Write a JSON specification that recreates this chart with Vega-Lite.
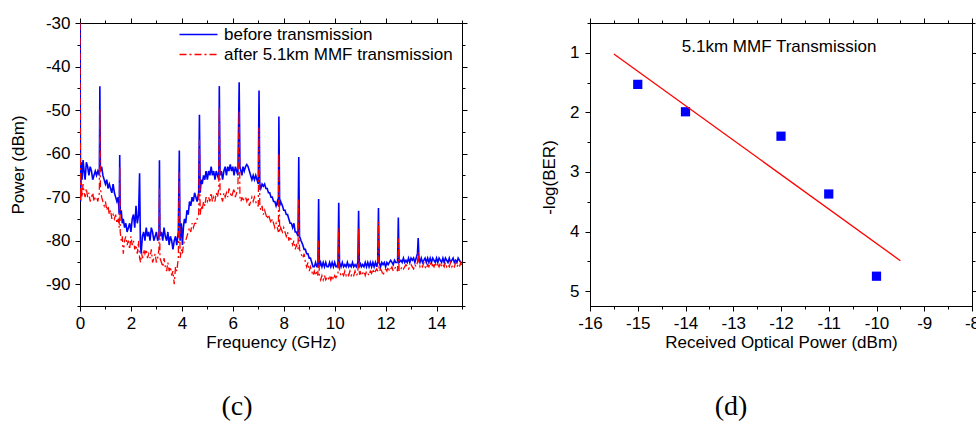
{
"$schema": "https://vega.github.io/schema/vega-lite/v6.json",
"background": "white",
"padding": {"left": 8, "top": 13, "right": 0, "bottom": 0},
"spacing": 128,
"bounds": "flush",
"config": {
  "font": "Liberation Sans",
  "view": {"stroke": "black", "strokeWidth": 1},
  "axis": {"grid": false, "zindex": 0, "domainColor": "black", "tickColor": "black", "labelColor": "black", "titleColor": "black", "labelFont": "Liberation Sans", "titleFont": "Liberation Sans", "labelFontSize": 17, "titleFontSize": 17, "titleFontWeight": "normal", "labelPadding": 4, "labelFlush": false, "labelOverlap": false}
},
"datasets": {
"before": [
{"f":0,"p":-30},{"f":0.02,"p":-71},{"f":0.05,"p":-62},{"f":0.08,"p":-66},{"f":0.12,"p":-61.5},{"f":0.16,"p":-64},{"f":0.2,"p":-66},{"f":0.25,"p":-62},{"f":0.3,"p":-63},{"f":0.35,"p":-65},{"f":0.4,"p":-63},{"f":0.45,"p":-64},{"f":0.5,"p":-66},{"f":0.55,"p":-65},{"f":0.6,"p":-64},{"f":0.65,"p":-65},{"f":0.7,"p":-64},{"f":0.76,"p":-65},{"f":0.78,"p":-44.5},{"f":0.8,"p":-64},{"f":0.85,"p":-63},{"f":0.9,"p":-65},{"f":0.95,"p":-66},{"f":1,"p":-67},{"f":1.05,"p":-66},{"f":1.1,"p":-68},{"f":1.15,"p":-67},{"f":1.2,"p":-68},{"f":1.25,"p":-69},{"f":1.3,"p":-67},{"f":1.35,"p":-69},{"f":1.4,"p":-70},{"f":1.45,"p":-71},{"f":1.5,"p":-70},{"f":1.54,"p":-74},{"f":1.56,"p":-60.3},{"f":1.58,"p":-74},{"f":1.62,"p":-73},{"f":1.66,"p":-76},{"f":1.7,"p":-75},{"f":1.75,"p":-77},{"f":1.8,"p":-76},{"f":1.85,"p":-78},{"f":1.9,"p":-77},{"f":1.95,"p":-76},{"f":2,"p":-78},{"f":2.05,"p":-75},{"f":2.1,"p":-74},{"f":2.15,"p":-77},{"f":2.2,"p":-72},{"f":2.25,"p":-76},{"f":2.3,"p":-74},{"f":2.34,"p":-64.5},{"f":2.37,"p":-80},{"f":2.4,"p":-83},{"f":2.45,"p":-79},{"f":2.5,"p":-78},{"f":2.55,"p":-80},{"f":2.6,"p":-77},{"f":2.65,"p":-79},{"f":2.7,"p":-78},{"f":2.75,"p":-80},{"f":2.8,"p":-77},{"f":2.85,"p":-78},{"f":2.9,"p":-80},{"f":2.95,"p":-79},{"f":3,"p":-78},{"f":3.05,"p":-80},{"f":3.1,"p":-79},{"f":3.12,"p":-61.5},{"f":3.14,"p":-79},{"f":3.2,"p":-78},{"f":3.25,"p":-80},{"f":3.3,"p":-77},{"f":3.35,"p":-79},{"f":3.4,"p":-80},{"f":3.45,"p":-78},{"f":3.5,"p":-81},{"f":3.55,"p":-79},{"f":3.6,"p":-80},{"f":3.65,"p":-82},{"f":3.7,"p":-80},{"f":3.75,"p":-79},{"f":3.8,"p":-81},{"f":3.86,"p":-78},{"f":3.9,"p":-59.3},{"f":3.93,"p":-80},{"f":3.98,"p":-76},{"f":4.02,"p":-81},{"f":4.06,"p":-77},{"f":4.1,"p":-75},{"f":4.15,"p":-76},{"f":4.2,"p":-73},{"f":4.25,"p":-74},{"f":4.3,"p":-71},{"f":4.35,"p":-72},{"f":4.4,"p":-70},{"f":4.45,"p":-71},{"f":4.5,"p":-69},{"f":4.55,"p":-70},{"f":4.6,"p":-71},{"f":4.66,"p":-69},{"f":4.69,"p":-51.1},{"f":4.72,"p":-69},{"f":4.76,"p":-66},{"f":4.8,"p":-67},{"f":4.85,"p":-65},{"f":4.9,"p":-66},{"f":4.95,"p":-64},{"f":5,"p":-66},{"f":5.05,"p":-64},{"f":5.1,"p":-65},{"f":5.15,"p":-63},{"f":5.2,"p":-65},{"f":5.25,"p":-64},{"f":5.3,"p":-66},{"f":5.35,"p":-64},{"f":5.4,"p":-65},{"f":5.45,"p":-66},{"f":5.47,"p":-44.5},{"f":5.5,"p":-65},{"f":5.55,"p":-64},{"f":5.6,"p":-66},{"f":5.65,"p":-64},{"f":5.7,"p":-63},{"f":5.75,"p":-65},{"f":5.8,"p":-63},{"f":5.85,"p":-64},{"f":5.9,"p":-62.5},{"f":5.95,"p":-64},{"f":6,"p":-63},{"f":6.05,"p":-65},{"f":6.1,"p":-63},{"f":6.15,"p":-64},{"f":6.2,"p":-65},{"f":6.25,"p":-43.6},{"f":6.28,"p":-63},{"f":6.32,"p":-64},{"f":6.36,"p":-65},{"f":6.4,"p":-63},{"f":6.45,"p":-64},{"f":6.5,"p":-63},{"f":6.55,"p":-62.5},{"f":6.6,"p":-63},{"f":6.65,"p":-64},{"f":6.7,"p":-65},{"f":6.75,"p":-66},{"f":6.8,"p":-65},{"f":6.85,"p":-66},{"f":6.9,"p":-65},{"f":6.95,"p":-66},{"f":7,"p":-67},{"f":7.03,"p":-45.5},{"f":7.06,"p":-67},{"f":7.1,"p":-68},{"f":7.15,"p":-67},{"f":7.2,"p":-67.5},{"f":7.25,"p":-67},{"f":7.3,"p":-68},{"f":7.35,"p":-68},{"f":7.4,"p":-69},{"f":7.45,"p":-69},{"f":7.5,"p":-70},{"f":7.55,"p":-70},{"f":7.6,"p":-71},{"f":7.65,"p":-71},{"f":7.7,"p":-72},{"f":7.75,"p":-71},{"f":7.79,"p":-72},{"f":7.81,"p":-51.5},{"f":7.84,"p":-72},{"f":7.88,"p":-71},{"f":7.95,"p":-72},{"f":8,"p":-73},{"f":8.05,"p":-73},{"f":8.1,"p":-74},{"f":8.15,"p":-74},{"f":8.2,"p":-75},{"f":8.25,"p":-76},{"f":8.3,"p":-76},{"f":8.35,"p":-77},{"f":8.4,"p":-76},{"f":8.45,"p":-78},{"f":8.5,"p":-78},{"f":8.56,"p":-79},{"f":8.59,"p":-60.8},{"f":8.62,"p":-79},{"f":8.68,"p":-80},{"f":8.75,"p":-81},{"f":8.8,"p":-82},{"f":8.85,"p":-82},{"f":8.9,"p":-83},{"f":8.95,"p":-83},{"f":9,"p":-84},{"f":9.05,"p":-84},{"f":9.1,"p":-85},{"f":9.15,"p":-86},{"f":9.2,"p":-86},{"f":9.25,"p":-85},{"f":9.3,"p":-86},{"f":9.34,"p":-86},{"f":9.37,"p":-70.4},{"f":9.4,"p":-86},{"f":9.45,"p":-85},{"f":9.5,"p":-86},{"f":9.55,"p":-85},{"f":9.6,"p":-86},{"f":9.65,"p":-85},{"f":9.7,"p":-86},{"f":9.75,"p":-86},{"f":9.8,"p":-85},{"f":9.85,"p":-86},{"f":9.9,"p":-85},{"f":9.95,"p":-86},{"f":10,"p":-85},{"f":10.05,"p":-86},{"f":10.1,"p":-86},{"f":10.13,"p":-85},{"f":10.16,"p":-71.3},{"f":10.19,"p":-85},{"f":10.25,"p":-86},{"f":10.3,"p":-85},{"f":10.35,"p":-86},{"f":10.4,"p":-85.5},{"f":10.45,"p":-86},{"f":10.5,"p":-85},{"f":10.55,"p":-86},{"f":10.6,"p":-85.5},{"f":10.65,"p":-86},{"f":10.7,"p":-85},{"f":10.75,"p":-86},{"f":10.8,"p":-85.5},{"f":10.85,"p":-86},{"f":10.91,"p":-85},{"f":10.94,"p":-73.1},{"f":10.97,"p":-86},{"f":11,"p":-85},{"f":11.05,"p":-86},{"f":11.1,"p":-85.5},{"f":11.15,"p":-86},{"f":11.2,"p":-85},{"f":11.25,"p":-86},{"f":11.3,"p":-85},{"f":11.35,"p":-86},{"f":11.4,"p":-85},{"f":11.45,"p":-86},{"f":11.5,"p":-85},{"f":11.55,"p":-86},{"f":11.6,"p":-85},{"f":11.65,"p":-86},{"f":11.69,"p":-85},{"f":11.72,"p":-72.5},{"f":11.75,"p":-85},{"f":11.8,"p":-86},{"f":11.85,"p":-85},{"f":11.9,"p":-85.5},{"f":11.95,"p":-85},{"f":12,"p":-86},{"f":12.05,"p":-85},{"f":12.1,"p":-85.5},{"f":12.15,"p":-85},{"f":12.2,"p":-84.5},{"f":12.25,"p":-85},{"f":12.3,"p":-85.5},{"f":12.35,"p":-84.5},{"f":12.4,"p":-85},{"f":12.47,"p":-85},{"f":12.5,"p":-74.7},{"f":12.53,"p":-85},{"f":12.6,"p":-84.5},{"f":12.65,"p":-85},{"f":12.7,"p":-84},{"f":12.75,"p":-85},{"f":12.8,"p":-84.5},{"f":12.85,"p":-85},{"f":12.9,"p":-84},{"f":12.95,"p":-85},{"f":13,"p":-84},{"f":13.05,"p":-84.5},{"f":13.1,"p":-84},{"f":13.15,"p":-85},{"f":13.2,"p":-84},{"f":13.25,"p":-83},{"f":13.28,"p":-79.4},{"f":13.31,"p":-84},{"f":13.35,"p":-85},{"f":13.4,"p":-84},{"f":13.45,"p":-85},{"f":13.5,"p":-84.5},{"f":13.55,"p":-84},{"f":13.6,"p":-85},{"f":13.65,"p":-84},{"f":13.7,"p":-85},{"f":13.75,"p":-84},{"f":13.8,"p":-85},{"f":13.85,"p":-84},{"f":13.9,"p":-84.5},{"f":13.95,"p":-85},{"f":14,"p":-84},{"f":14.05,"p":-85},{"f":14.1,"p":-84},{"f":14.15,"p":-84.5},{"f":14.2,"p":-85},{"f":14.25,"p":-84},{"f":14.3,"p":-85},{"f":14.35,"p":-84},{"f":14.4,"p":-84.5},{"f":14.45,"p":-85},{"f":14.5,"p":-84},{"f":14.55,"p":-85},{"f":14.6,"p":-84.5},{"f":14.65,"p":-84},{"f":14.7,"p":-85},{"f":14.75,"p":-84.5},{"f":14.8,"p":-85},{"f":14.85,"p":-84},{"f":14.9,"p":-84.5},{"f":14.95,"p":-85},{"f":15,"p":-85}
],
"after": [
{"f":0,"p":-30},{"f":0.02,"p":-71},{"f":0.05,"p":-66},{"f":0.08,"p":-70},{"f":0.12,"p":-67},{"f":0.16,"p":-69},{"f":0.2,"p":-70},{"f":0.25,"p":-68},{"f":0.3,"p":-70},{"f":0.35,"p":-69},{"f":0.4,"p":-71},{"f":0.45,"p":-70},{"f":0.5,"p":-69},{"f":0.55,"p":-71},{"f":0.6,"p":-70},{"f":0.65,"p":-70},{"f":0.7,"p":-71},{"f":0.76,"p":-69},{"f":0.78,"p":-50},{"f":0.8,"p":-68},{"f":0.85,"p":-70},{"f":0.9,"p":-71},{"f":0.95,"p":-72},{"f":1,"p":-71},{"f":1.05,"p":-73},{"f":1.1,"p":-72},{"f":1.15,"p":-74},{"f":1.2,"p":-73},{"f":1.25,"p":-75},{"f":1.3,"p":-74},{"f":1.35,"p":-75},{"f":1.4,"p":-74},{"f":1.45,"p":-76},{"f":1.5,"p":-75},{"f":1.54,"p":-77},{"f":1.56,"p":-63},{"f":1.58,"p":-78},{"f":1.62,"p":-80},{"f":1.66,"p":-79},{"f":1.7,"p":-83},{"f":1.75,"p":-80},{"f":1.8,"p":-79},{"f":1.85,"p":-81},{"f":1.9,"p":-80},{"f":1.95,"p":-82},{"f":2,"p":-79},{"f":2.05,"p":-81},{"f":2.1,"p":-80},{"f":2.15,"p":-82},{"f":2.2,"p":-81},{"f":2.25,"p":-83},{"f":2.3,"p":-80},{"f":2.34,"p":-84},{"f":2.38,"p":-85},{"f":2.42,"p":-83},{"f":2.46,"p":-84},{"f":2.5,"p":-82},{"f":2.55,"p":-83},{"f":2.6,"p":-82},{"f":2.65,"p":-84},{"f":2.7,"p":-83},{"f":2.75,"p":-84},{"f":2.8,"p":-82},{"f":2.85,"p":-85},{"f":2.9,"p":-84},{"f":2.95,"p":-83},{"f":3,"p":-85},{"f":3.05,"p":-84},{"f":3.1,"p":-82},{"f":3.12,"p":-68},{"f":3.14,"p":-84},{"f":3.2,"p":-85},{"f":3.25,"p":-86},{"f":3.3,"p":-84},{"f":3.35,"p":-86},{"f":3.4,"p":-87},{"f":3.45,"p":-85},{"f":3.5,"p":-87},{"f":3.55,"p":-86},{"f":3.6,"p":-88},{"f":3.65,"p":-87},{"f":3.7,"p":-90},{"f":3.75,"p":-86},{"f":3.8,"p":-87},{"f":3.86,"p":-84},{"f":3.9,"p":-64.3},{"f":3.93,"p":-84},{"f":3.98,"p":-82},{"f":4.02,"p":-83},{"f":4.06,"p":-81},{"f":4.1,"p":-80},{"f":4.15,"p":-80},{"f":4.2,"p":-79},{"f":4.25,"p":-78},{"f":4.3,"p":-77},{"f":4.35,"p":-78},{"f":4.4,"p":-76},{"f":4.45,"p":-77},{"f":4.5,"p":-76},{"f":4.55,"p":-76},{"f":4.6,"p":-75},{"f":4.66,"p":-74},{"f":4.69,"p":-56.8},{"f":4.72,"p":-74},{"f":4.76,"p":-72},{"f":4.8,"p":-73},{"f":4.85,"p":-71},{"f":4.9,"p":-72},{"f":4.95,"p":-70},{"f":5,"p":-71},{"f":5.05,"p":-70},{"f":5.1,"p":-71},{"f":5.15,"p":-69},{"f":5.2,"p":-71},{"f":5.25,"p":-70},{"f":5.3,"p":-71},{"f":5.35,"p":-69},{"f":5.4,"p":-70},{"f":5.45,"p":-68},{"f":5.47,"p":-49.4},{"f":5.5,"p":-69},{"f":5.55,"p":-70},{"f":5.6,"p":-71},{"f":5.65,"p":-69},{"f":5.7,"p":-70},{"f":5.75,"p":-69},{"f":5.8,"p":-70},{"f":5.85,"p":-68},{"f":5.9,"p":-69},{"f":5.95,"p":-70},{"f":6,"p":-69},{"f":6.05,"p":-68},{"f":6.1,"p":-70},{"f":6.15,"p":-69},{"f":6.2,"p":-68},{"f":6.25,"p":-50.1},{"f":6.28,"p":-70},{"f":6.32,"p":-71},{"f":6.36,"p":-70},{"f":6.4,"p":-71},{"f":6.45,"p":-70},{"f":6.5,"p":-70},{"f":6.55,"p":-71},{"f":6.6,"p":-70},{"f":6.65,"p":-72},{"f":6.7,"p":-71},{"f":6.75,"p":-70},{"f":6.8,"p":-71},{"f":6.85,"p":-70},{"f":6.9,"p":-71},{"f":6.95,"p":-72},{"f":7,"p":-72},{"f":7.03,"p":-54},{"f":7.06,"p":-72},{"f":7.1,"p":-73},{"f":7.15,"p":-72},{"f":7.2,"p":-74},{"f":7.25,"p":-73},{"f":7.3,"p":-74},{"f":7.35,"p":-75},{"f":7.4,"p":-74},{"f":7.45,"p":-75},{"f":7.5,"p":-76},{"f":7.55,"p":-75},{"f":7.6,"p":-76},{"f":7.65,"p":-77},{"f":7.7,"p":-76},{"f":7.75,"p":-77},{"f":7.79,"p":-78},{"f":7.81,"p":-59.9},{"f":7.84,"p":-78},{"f":7.88,"p":-77},{"f":7.95,"p":-78},{"f":8,"p":-77},{"f":8.05,"p":-78},{"f":8.1,"p":-79},{"f":8.15,"p":-78},{"f":8.2,"p":-80},{"f":8.25,"p":-79},{"f":8.3,"p":-80},{"f":8.35,"p":-81},{"f":8.4,"p":-80},{"f":8.45,"p":-82},{"f":8.5,"p":-81},{"f":8.56,"p":-82},{"f":8.59,"p":-70.5},{"f":8.62,"p":-82},{"f":8.68,"p":-83},{"f":8.75,"p":-84},{"f":8.8,"p":-83},{"f":8.85,"p":-85},{"f":8.9,"p":-86},{"f":8.95,"p":-85},{"f":9,"p":-87},{"f":9.05,"p":-86},{"f":9.1,"p":-87},{"f":9.15,"p":-88},{"f":9.2,"p":-87},{"f":9.25,"p":-88},{"f":9.3,"p":-87},{"f":9.34,"p":-88},{"f":9.37,"p":-80},{"f":9.4,"p":-88},{"f":9.45,"p":-89},{"f":9.5,"p":-88},{"f":9.55,"p":-89},{"f":9.6,"p":-88},{"f":9.65,"p":-89},{"f":9.7,"p":-88.5},{"f":9.75,"p":-89},{"f":9.8,"p":-88},{"f":9.85,"p":-89},{"f":9.9,"p":-88},{"f":9.95,"p":-89},{"f":10,"p":-88},{"f":10.05,"p":-88.5},{"f":10.1,"p":-88},{"f":10.13,"p":-88},{"f":10.16,"p":-77.2},{"f":10.19,"p":-87},{"f":10.25,"p":-88},{"f":10.3,"p":-87.5},{"f":10.35,"p":-88},{"f":10.4,"p":-87},{"f":10.45,"p":-88},{"f":10.5,"p":-87.5},{"f":10.55,"p":-88},{"f":10.6,"p":-87},{"f":10.65,"p":-88},{"f":10.7,"p":-87.5},{"f":10.75,"p":-88},{"f":10.8,"p":-87},{"f":10.85,"p":-88},{"f":10.91,"p":-87.5},{"f":10.94,"p":-77.2},{"f":10.97,"p":-88},{"f":11,"p":-87},{"f":11.05,"p":-88},{"f":11.1,"p":-87.5},{"f":11.15,"p":-87},{"f":11.2,"p":-88},{"f":11.25,"p":-87},{"f":11.3,"p":-87.5},{"f":11.35,"p":-88},{"f":11.4,"p":-87},{"f":11.45,"p":-87.5},{"f":11.5,"p":-86.5},{"f":11.55,"p":-87.5},{"f":11.6,"p":-87},{"f":11.65,"p":-86.5},{"f":11.69,"p":-87},{"f":11.72,"p":-75.7},{"f":11.75,"p":-87},{"f":11.8,"p":-86.5},{"f":11.85,"p":-87},{"f":11.9,"p":-88},{"f":11.95,"p":-87},{"f":12,"p":-86.5},{"f":12.05,"p":-87},{"f":12.1,"p":-86},{"f":12.15,"p":-87},{"f":12.2,"p":-86.5},{"f":12.25,"p":-86},{"f":12.3,"p":-87},{"f":12.35,"p":-86.5},{"f":12.4,"p":-86},{"f":12.47,"p":-87},{"f":12.5,"p":-79.5},{"f":12.53,"p":-87},{"f":12.6,"p":-86.5},{"f":12.65,"p":-86},{"f":12.7,"p":-86.5},{"f":12.75,"p":-86},{"f":12.8,"p":-85.5},{"f":12.85,"p":-86},{"f":12.9,"p":-86.5},{"f":12.95,"p":-86},{"f":13,"p":-85.5},{"f":13.05,"p":-86},{"f":13.1,"p":-86.5},{"f":13.15,"p":-85.5},{"f":13.2,"p":-86},{"f":13.25,"p":-85},{"f":13.28,"p":-82.7},{"f":13.31,"p":-85},{"f":13.35,"p":-86},{"f":13.4,"p":-85.5},{"f":13.45,"p":-86},{"f":13.5,"p":-85},{"f":13.55,"p":-86},{"f":13.6,"p":-86.5},{"f":13.65,"p":-85.5},{"f":13.7,"p":-86},{"f":13.75,"p":-85},{"f":13.8,"p":-86},{"f":13.85,"p":-85.5},{"f":13.9,"p":-86},{"f":13.95,"p":-85},{"f":14,"p":-86},{"f":14.05,"p":-85.5},{"f":14.1,"p":-86},{"f":14.15,"p":-85},{"f":14.2,"p":-86},{"f":14.25,"p":-85.5},{"f":14.3,"p":-86},{"f":14.35,"p":-85},{"f":14.4,"p":-86},{"f":14.45,"p":-85.5},{"f":14.5,"p":-86},{"f":14.55,"p":-85},{"f":14.6,"p":-86},{"f":14.65,"p":-85.5},{"f":14.7,"p":-86},{"f":14.75,"p":-85},{"f":14.8,"p":-86},{"f":14.85,"p":-85.5},{"f":14.9,"p":-86},{"f":14.95,"p":-85},{"f":15,"p":-86}
],
"ber": [
{"power":-15,"nlogber":1.53},{"power":-14,"nlogber":1.99},{"power":-12,"nlogber":2.4},{"power":-11,"nlogber":3.37},{"power":-10,"nlogber":4.75}
],
"fit": [
{"power":-15.5,"nlogber":1.02},{"power":-9.5,"nlogber":4.49}
],
"note": [
{"power":-12.04,"nlogber":0.9,"label":"5.1km MMF Transmission"}
]
},
"hconcat": [
{
  "width": 382, "height": 283,
  "title": {"text": "(c)", "orient": "bottom", "offset": 43, "dx": -34, "font": "Liberation Serif", "fontSize": 28, "fontWeight": "normal", "color": "black"},
  "layer": [
    {
      "data": {"name": "before"},
      "mark": {"type": "line", "strokeWidth": 1.6, "clip": true},
      "encoding": {
        "x": {"field": "f", "type": "quantitative", "scale": {"domain": [0, 15], "nice": false, "zero": false},
              "axis": {"orient": "bottom", "title": "Frequency (GHz)", "values": [0,1,2,3,4,5,6,7,8,9,10,11,12,13,14,15], "labelExpr": "datum.value % 2 == 0 ? '' + datum.value : ''", "tickSize": {"condition": {"test": "datum.value % 2 == 0", "value": 5}, "value": 3}, "titlePadding": 3}},
        "y": {"field": "p", "type": "quantitative", "scale": {"domain": [-95, -30], "nice": false, "zero": false},
              "axis": {"orient": "left", "title": "Power (dBm)", "values": [-95,-90,-85,-80,-75,-70,-65,-60,-55,-50,-45,-40,-35,-30], "labelExpr": "datum.value % 10 == 0 ? '' + datum.value : ''", "tickSize": {"condition": {"test": "datum.value % 10 == 0", "value": 5}, "value": 3}, "labelPadding": 5, "titlePadding": 18}},
        "color": {"datum": "before transmission", "type": "nominal",
                  "scale": {"domain": ["before transmission", "after 5.1km MMF transmission"], "range": ["#0000ff", "#ff0000"]},
                  "legend": {"title": null, "orient": "none", "legendX": 110, "legendY": 3, "symbolType": "M-2.5,0H2.5", "symbolSize": 231, "symbolStrokeWidth": 1.5, "labelFontSize": 17, "labelFont": "Liberation Sans", "labelColor": "black", "labelOffset": 17, "labelLimit": 500, "rowPadding": 2, "padding": 0}},
        "strokeDash": {"datum": "before transmission", "type": "nominal",
                  "scale": {"domain": ["before transmission", "after 5.1km MMF transmission"], "range": [[1, 0], [7, 3, 2, 3]]},
                  "legend": {"title": null, "orient": "none", "legendX": 110, "legendY": 3, "symbolType": "M-2.5,0H2.5", "symbolSize": 231, "symbolStrokeWidth": 1.5, "labelFontSize": 17, "labelFont": "Liberation Sans", "labelColor": "black", "labelOffset": 17, "labelLimit": 500, "rowPadding": 2, "padding": 0}}
      }
    },
    {
      "data": {"name": "after"},
      "mark": {"type": "line", "strokeWidth": 1.3, "clip": true},
      "encoding": {
        "x": {"field": "f", "type": "quantitative",
              "axis": {"orient": "top", "title": null, "labels": false, "values": [0,1,2,3,4,5,6,7,8,9,10,11,12,13,14,15], "tickSize": {"condition": {"test": "datum.value % 2 == 0", "value": 5}, "value": 3}}},
        "y": {"field": "p", "type": "quantitative",
              "axis": {"orient": "right", "title": null, "labels": false, "values": [-95,-90,-85,-80,-75,-70,-65,-60,-55,-50,-45,-40,-35,-30], "tickSize": {"condition": {"test": "datum.value % 10 == 0", "value": 5}, "value": 3}}},
        "color": {"datum": "after 5.1km MMF transmission", "type": "nominal"},
        "strokeDash": {"datum": "after 5.1km MMF transmission", "type": "nominal"}
      }
    }
  ],
  "resolve": {"axis": {"x": "independent", "y": "independent"}}
},
{
  "width": 382, "height": 283,
  "title": {"text": "(d)", "orient": "bottom", "offset": 43, "dx": -50, "font": "Liberation Serif", "fontSize": 28, "fontWeight": "normal", "color": "black"},
  "layer": [
    {
      "data": {"name": "ber"},
      "mark": {"type": "point", "shape": "square", "filled": true, "size": 85, "color": "#0000ff", "opacity": 1},
      "encoding": {
        "x": {"field": "power", "type": "quantitative", "scale": {"domain": [-16, -8], "nice": false, "zero": false},
              "axis": {"orient": "bottom", "title": "Received Optical Power (dBm)", "values": [-16,-15.5,-15,-14.5,-14,-13.5,-13,-12.5,-12,-11.5,-11,-10.5,-10,-9.5,-9,-8.5,-8], "labelExpr": "datum.value % 1 == 0 ? '' + datum.value : ''", "tickSize": {"condition": {"test": "datum.value % 1 == 0", "value": 5}, "value": 3}, "titlePadding": 3}},
        "y": {"field": "nlogber", "type": "quantitative", "scale": {"domain": [0.5, 5.25], "reverse": true, "nice": false, "zero": false},
              "axis": {"orient": "left", "title": "-log(BER)", "values": [0.5,1,1.5,2,2.5,3,3.5,4,4.5,5], "labelExpr": "datum.value % 1 == 0 ? '' + datum.value : ''", "tickSize": {"condition": {"test": "datum.value % 1 == 0", "value": 5}, "value": 3}, "labelPadding": 6, "titlePadding": 11, "titleY": 154}}
      }
    },
    {
      "data": {"name": "fit"},
      "mark": {"type": "line", "color": "#ff0000", "strokeWidth": 1.3},
      "encoding": {
        "x": {"field": "power", "type": "quantitative",
              "axis": {"orient": "top", "title": null, "labels": false, "values": [-16,-15.5,-15,-14.5,-14,-13.5,-13,-12.5,-12,-11.5,-11,-10.5,-10,-9.5,-9,-8.5,-8], "tickSize": {"condition": {"test": "datum.value % 1 == 0", "value": 5}, "value": 3}}},
        "y": {"field": "nlogber", "type": "quantitative",
              "axis": {"orient": "right", "title": null, "labels": false, "values": [0.5,1,1.5,2,2.5,3,3.5,4,4.5,5], "tickSize": {"condition": {"test": "datum.value % 1 == 0", "value": 5}, "value": 3}}}
      }
    },
    {
      "data": {"name": "note"},
      "mark": {"type": "text", "fontSize": 17, "font": "Liberation Sans", "color": "black", "baseline": "middle", "align": "center"},
      "encoding": {
        "x": {"field": "power", "type": "quantitative", "axis": null},
        "y": {"field": "nlogber", "type": "quantitative", "axis": null},
        "text": {"field": "label"}
      }
    }
  ],
  "resolve": {"axis": {"x": "independent", "y": "independent"}}
}
]
}
